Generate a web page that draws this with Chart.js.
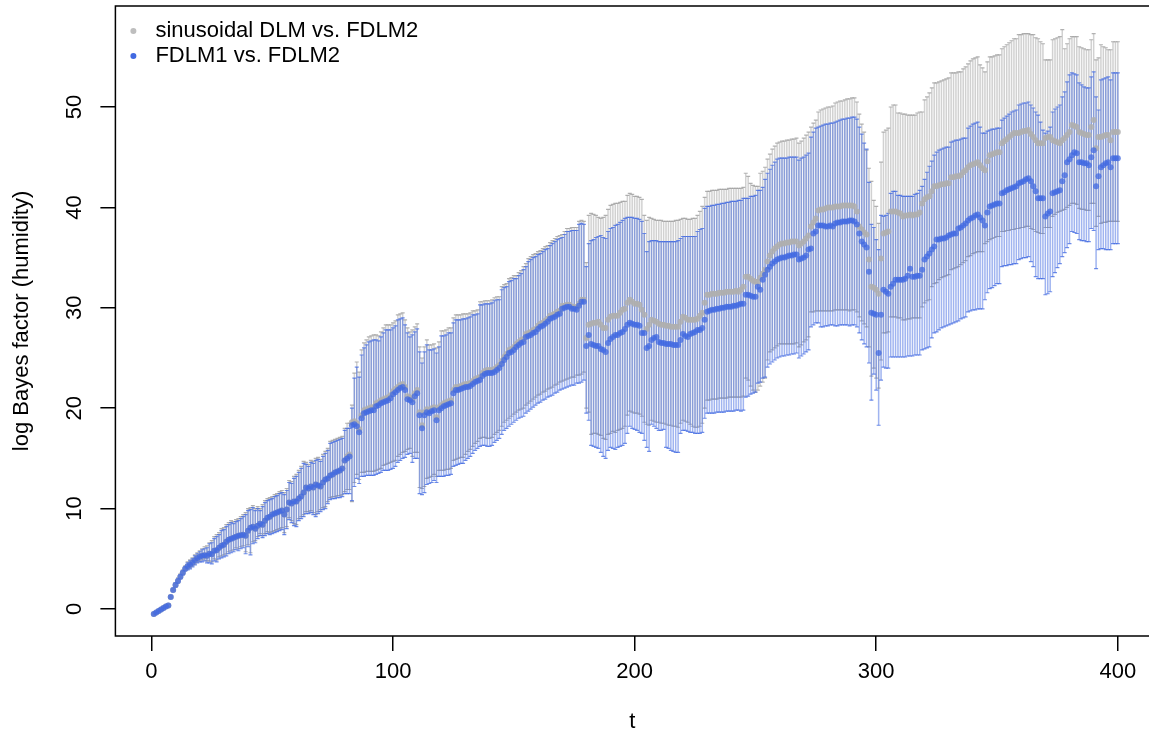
<!DOCTYPE html>
<html>
<head>
<meta charset="utf-8">
<script src="https://cdn.jsdelivr.net/npm/chart.js@4.4.1/dist/chart.umd.min.js"></script>
<style>
  html, body { margin: 0; padding: 0; background: #fff; }
</style>
</head>
<body>
<canvas id="bf" width="1149" height="733"></canvas>
<script>
// t = 1..400
const tValues = Array.from({ length: 400 }, (_, i) => i + 1);
const xTicks = [0, 100, 200, 300, 400];
const yTicks = [0, 10, 20, 30, 40, 50];

// FDLM1 vs. FDLM2 (blue): posterior mean and interval ends
const blueMean = [
  -0.5,-0.35,-0.2,-0.05,0.1,0.25,0.35,1.2,1.9,2.4,
  2.8,3.2,3.6,4.0,4.25,4.4,4.6,4.85,5.05,5.2,
  5.3,5.35,5.3,5.5,5.45,5.8,5.85,6.1,6.3,6.4,
  6.7,6.9,7.0,7.1,7.2,7.3,7.35,7.4,7.3,7.8,
  8.1,8.2,8.0,8.3,8.5,8.4,8.8,9.1,9.2,9.4,
  9.5,9.6,9.7,9.8,9.4,9.9,10.6,10.5,10.7,10.7,
  11.0,11.2,11.6,12.1,12.0,12.2,12.1,12.4,12.3,12.2,
  12.6,12.9,13.0,13.3,13.4,13.6,13.7,13.8,14.0,14.8,
  15.0,15.2,18.3,18.4,18.2,17.6,19.0,19.5,19.6,19.7,
  19.8,19.8,20.2,20.3,20.5,20.6,20.7,20.8,21.0,21.4,
  21.6,21.8,22.0,22.1,21.8,20.9,20.8,20.6,21.2,21.5,
  19.3,18.0,19.3,19.6,19.5,19.7,19.8,18.8,19.8,20.0,
  20.2,20.3,20.4,20.5,21.5,21.8,21.8,21.9,22.0,22.1,
  22.1,22.2,22.4,22.6,22.7,22.8,23.2,23.4,23.5,23.5,
  23.5,23.6,23.8,24.0,24.4,24.8,25.1,25.5,25.6,25.8,
  26.1,26.3,26.5,26.6,27.1,27.2,27.3,27.5,27.6,27.9,
  28.1,28.2,28.4,28.6,28.9,29.0,29.1,29.3,29.4,29.9,
  30.0,30.1,30.1,29.9,29.9,29.8,30.2,30.6,30.6,26.2,
  27.3,26.4,26.3,26.2,26.2,25.9,25.8,25.6,26.5,26.9,
  27.1,27.3,27.3,27.5,27.6,27.9,28.3,28.5,28.4,28.3,
  28.3,28.2,27.5,27.5,26.0,26.2,26.8,27.0,27.1,26.6,
  26.5,26.5,26.4,26.4,26.4,26.3,26.3,26.3,26.8,27.4,
  27.2,27.1,27.4,27.5,27.6,27.8,27.8,28.0,28.8,29.6,
  29.7,29.8,29.8,29.9,29.9,30.0,30.0,30.1,30.1,30.1,
  30.2,30.2,30.3,30.4,30.4,31.3,31.3,31.2,31.1,31.1,
  32.1,31.8,32.8,33.3,33.8,34.1,34.4,34.6,34.8,34.9,
  35.0,35.0,35.1,35.2,35.2,35.3,35.3,34.8,34.9,35.0,
  35.2,35.8,35.9,37.4,37.6,38.2,38.2,38.2,38.1,38.1,
  38.2,38.1,38.4,38.5,38.5,38.6,38.6,38.6,38.7,38.7,
  38.6,38.3,37.4,36.6,36.3,36.0,33.6,29.5,29.4,29.3,
  25.5,29.3,31.8,31.6,31.4,32.1,32.4,32.8,32.8,32.8,
  32.8,32.9,33.2,33.9,33.1,33.1,33.2,33.2,33.8,34.8,
  35.1,35.4,35.8,36.1,36.8,36.8,36.9,36.9,37.0,37.2,
  37.3,37.4,37.4,37.9,38.0,38.2,38.4,38.7,38.9,39.0,
  39.2,39.3,39.0,38.7,38.2,39.5,40.1,40.2,40.3,40.4,
  40.4,41.4,41.5,41.7,41.8,41.9,42.0,42.1,42.4,42.5,
  42.6,42.8,42.9,42.6,42.1,41.6,40.9,40.9,40.9,39.1,
  39.4,39.6,41.4,41.5,41.6,41.7,42.6,43.2,44.5,44.8,
  45.2,45.5,45.4,44.5,44.5,44.4,44.4,44.2,45.0,45.7,
  42.1,43.1,44.0,44.2,44.4,44.5,44.0,44.9,44.9,44.9
];
const blueHi = [
  -0.4,-0.25,-0.1,0.05,0.2,0.35,0.45,1.3,2.0,2.6,
  3.0,3.4,3.8,4.2,4.6,4.8,5.0,5.3,5.5,5.7,
  5.9,6.0,6.1,6.5,6.6,7.0,7.2,7.4,7.8,7.9,
  8.2,8.4,8.6,8.5,8.7,8.8,9.0,9.2,9.4,9.8,
  9.9,10.1,9.8,10.0,9.8,10.2,10.6,10.8,10.9,11.0,
  11.2,11.3,11.5,11.6,11.4,11.8,12.6,12.5,13.0,13.2,
  13.6,14.0,14.5,14.4,14.2,14.6,14.5,14.8,14.9,14.7,
  15.2,15.5,15.8,16.5,16.6,16.7,16.8,16.9,17.0,17.8,
  18.0,18.0,20.0,23.0,24.1,23.1,25.3,26.0,26.3,26.6,
  26.7,26.8,26.8,26.7,27.1,27.5,27.8,27.8,27.8,28.0,
  28.2,28.8,28.9,29.0,28.3,27.5,27.1,27.3,27.6,27.9,
  25.6,24.5,25.6,26.3,25.8,25.8,25.9,25.5,26.1,27.2,
  27.2,27.3,27.5,27.5,28.5,28.8,28.8,28.8,28.9,28.9,
  29.0,29.1,29.3,29.3,29.4,30.3,30.3,30.4,30.4,30.4,
  30.5,30.7,30.8,30.8,31.8,32.0,32.1,32.6,32.7,32.9,
  32.9,33.2,33.4,33.8,34.1,34.6,34.8,35.0,35.1,35.3,
  35.4,35.6,35.8,35.9,36.2,36.4,36.6,36.8,36.9,37.0,
  37.3,37.6,37.6,37.7,37.7,37.7,38.3,38.4,38.3,34.1,
  36.4,36.7,36.8,37.0,37.1,37.2,37.0,36.9,37.6,37.9,
  38.0,38.2,38.3,38.5,38.7,38.9,39.0,39.0,39.0,38.9,
  38.9,38.8,38.6,37.4,35.6,36.6,36.7,36.7,36.7,36.6,
  36.6,36.6,36.6,36.6,36.6,36.6,36.6,36.7,36.9,37.1,
  37.1,37.1,37.1,37.1,37.1,37.6,37.8,37.9,39.9,40.1,
  40.1,40.2,40.2,40.3,40.3,40.4,40.4,40.5,40.5,40.6,
  40.6,40.6,40.7,40.7,40.9,40.9,40.9,41.1,41.1,41.2,
  41.7,41.7,42.0,42.8,43.4,43.8,44.2,44.5,44.8,44.9,
  44.9,44.9,44.9,45.0,45.0,45.0,45.0,44.7,44.9,45.0,
  45.2,45.4,47.0,47.5,47.9,48.0,48.1,48.2,48.3,48.3,
  48.4,48.4,48.5,48.6,48.7,48.8,48.8,48.9,48.9,49.0,
  49.0,48.8,48.0,47.3,46.4,45.8,42.5,38.3,38.0,36.8,
  35.8,39.2,39.1,39.2,39.4,41.4,41.6,41.6,41.2,41.2,
  41.1,41.1,41.1,41.1,41.1,41.3,41.4,41.7,42.1,42.8,
  43.5,44.1,44.6,45.2,45.5,45.7,45.8,45.9,46.0,46.0,
  46.5,46.6,46.7,46.7,46.8,46.9,46.9,47.9,48.1,48.3,
  48.4,48.5,48.0,47.4,47.4,47.6,47.7,47.8,47.8,47.9,
  47.9,48.7,48.9,49.1,49.3,49.5,49.6,49.7,50.2,50.3,
  50.4,50.4,50.5,50.2,49.9,49.5,49.2,48.5,47.7,47.4,
  47.6,48.0,49.5,49.8,50.0,50.2,51.0,51.5,52.5,53.2,
  53.4,53.3,53.2,52.4,52.2,52.0,51.9,51.9,53.0,53.5,
  51.0,49.7,52.7,52.8,52.9,53.0,52.7,53.4,53.4,53.4
];
const blueLo = [
  -0.6,-0.45,-0.3,-0.15,0.0,0.15,0.25,1.1,1.8,2.2,
  2.6,3.0,3.4,3.8,3.9,4.0,4.2,4.4,4.6,4.7,
  4.7,4.8,4.6,4.6,4.5,4.8,4.7,5.0,5.1,5.2,
  5.3,5.5,5.6,5.7,5.9,5.8,6.0,6.1,5.5,6.2,
  5.4,6.5,6.6,7.0,7.3,7.1,7.3,7.5,7.4,7.5,
  7.6,7.7,7.8,7.9,7.4,8.0,8.9,8.6,8.3,8.2,
  8.8,9.0,9.2,9.5,9.5,9.6,9.4,9.2,9.5,9.7,
  9.9,10.0,10.5,10.9,11.0,11.0,11.1,11.1,11.2,11.5,
  11.5,11.5,10.8,12.2,13.0,12.5,13.2,13.2,13.3,13.3,
  13.3,13.3,13.4,13.5,13.6,13.8,13.8,13.8,13.9,14.0,
  14.2,14.6,14.8,15.0,15.1,15.4,15.5,14.6,15.0,15.0,
  11.5,11.4,11.6,12.4,12.5,12.6,12.8,12.6,13.2,13.2,
  13.2,13.3,13.3,13.4,14.2,14.3,14.4,14.5,14.5,14.8,
  15.0,15.2,15.5,15.8,16.0,16.2,16.3,16.3,16.2,16.2,
  16.3,16.6,16.8,17.0,17.4,17.8,18.0,18.2,18.4,18.6,
  18.8,19.0,19.1,19.2,19.5,19.7,19.9,20.1,20.3,20.5,
  20.6,20.8,20.9,21.1,21.2,21.3,21.5,21.6,21.8,21.9,
  22.0,22.1,22.2,22.3,22.3,22.5,22.5,22.6,22.8,19.5,
  18.8,16.3,16.2,16.1,16.0,15.6,15.2,15.0,15.8,16.1,
  16.0,15.9,16.1,16.2,16.3,16.5,17.5,18.2,18.0,17.9,
  17.8,17.6,17.5,16.8,16.1,15.7,18.4,18.2,18.0,17.8,
  17.8,17.9,16.1,16.0,15.8,15.7,15.6,15.6,17.5,17.8,
  17.8,17.7,17.6,17.6,17.5,17.5,17.5,17.6,19.0,19.5,
  19.5,19.5,19.5,19.6,19.6,19.6,19.6,19.7,19.7,19.7,
  19.7,19.8,19.8,19.7,19.8,21.1,21.2,21.4,21.5,21.6,
  22.5,22.6,23.0,23.1,24.1,24.4,24.6,24.8,25.0,25.1,
  25.2,25.2,25.3,25.3,25.4,25.4,25.5,25.0,25.2,25.4,
  25.6,25.8,28.1,28.3,28.5,28.5,28.1,28.1,28.2,28.2,
  28.3,28.3,28.2,28.2,28.3,28.3,28.3,28.3,28.2,28.3,
  28.3,28.1,27.5,26.8,26.4,26.1,24.5,20.8,23.4,21.8,
  18.3,22.8,24.1,24.0,24.0,25.1,25.1,25.1,25.1,25.1,
  25.1,25.1,25.2,25.2,25.2,25.3,25.3,25.3,25.8,25.9,
  26.0,26.1,27.0,27.5,27.6,27.8,28.0,28.1,28.2,28.3,
  28.4,28.5,28.6,28.7,28.9,29.0,29.1,29.6,29.7,29.8,
  29.8,29.9,29.9,29.9,30.8,31.5,31.9,32.0,32.2,32.4,
  32.4,34.1,34.2,34.2,34.3,34.3,34.4,34.4,34.8,34.9,
  35.0,35.0,35.1,34.6,34.1,33.1,32.9,32.9,32.9,31.3,
  31.4,31.6,33.1,33.5,34.0,34.4,35.1,35.5,36.0,36.4,
  37.6,37.5,37.4,36.8,36.7,36.7,36.6,36.6,37.9,37.7,
  33.9,35.8,35.9,35.9,35.8,35.8,35.8,36.4,36.4,36.4
];

// sinusoidal DLM vs. FDLM2 (grey)
const greyMean = [
  -0.5,-0.35,-0.2,-0.05,0.1,0.25,0.35,1.2,1.9,2.4,
  2.8,3.2,3.6,4.0,4.25,4.4,4.6,4.85,5.05,5.2,
  5.3,5.35,5.3,5.5,5.45,5.8,5.85,6.1,6.3,6.4,
  6.7,6.9,7.0,7.1,7.2,7.3,7.35,7.4,7.3,7.8,
  8.1,8.2,8.0,8.3,8.5,8.4,8.8,9.1,9.2,9.4,
  9.5,9.6,9.7,9.8,9.4,9.9,10.6,10.5,10.7,10.7,
  11.0,11.2,11.6,12.1,12.0,12.2,12.1,12.4,12.3,12.2,
  12.6,12.9,13.0,13.3,13.4,13.6,13.7,13.8,14.0,14.8,
  15.2,15.4,18.6,18.7,18.5,17.9,19.3,19.8,19.9,20.0,
  20.1,20.1,20.5,20.6,20.8,20.9,21.0,21.1,21.3,21.7,
  21.9,22.1,22.3,22.4,22.1,21.2,21.1,20.9,21.5,21.8,
  19.6,18.3,19.6,19.9,19.8,20.0,20.1,19.1,20.1,20.3,
  20.5,20.6,20.7,20.8,21.8,22.1,22.1,22.2,22.3,22.4,
  22.4,22.5,22.7,22.9,23.0,23.1,23.5,23.7,23.8,23.8,
  23.8,23.9,24.1,24.3,24.7,25.1,25.4,25.8,25.9,26.1,
  26.4,26.6,26.8,26.9,27.4,27.5,27.6,27.8,27.9,28.2,
  28.4,28.5,28.7,28.9,29.2,29.3,29.4,29.6,29.7,30.2,
  30.2,30.3,30.3,30.1,30.1,30.0,30.4,30.8,30.8,27.0,
  28.3,28.4,28.5,28.5,28.6,28.3,28.0,28.0,28.8,29.1,
  29.2,29.2,29.2,29.5,29.8,29.9,30.5,30.8,30.6,30.4,
  30.4,30.3,29.8,29.3,27.9,28.3,28.8,28.7,28.6,28.4,
  28.3,28.3,28.2,28.2,28.1,28.1,28.1,28.1,28.6,29.1,
  29.0,28.8,28.8,28.8,28.8,28.9,29.2,29.5,30.5,31.3,
  31.3,31.4,31.4,31.4,31.5,31.5,31.5,31.6,31.6,31.6,
  31.6,31.7,31.6,31.8,32.1,33.1,33.1,32.9,32.7,32.6,
  32.6,33.0,33.4,33.8,34.6,35.2,35.6,35.9,36.1,36.3,
  36.4,36.4,36.5,36.5,36.6,36.6,36.6,36.2,36.4,36.6,
  36.9,37.2,38.1,38.5,38.9,39.7,39.8,39.8,39.9,40.0,
  40.0,40.0,40.1,40.1,40.1,40.2,40.2,40.2,40.2,40.2,
  40.1,39.6,38.1,37.8,37.5,37.3,34.8,32.1,32.0,31.8,
  31.4,34.9,37.4,37.5,37.6,39.6,39.6,39.6,39.5,39.4,
  39.1,39.2,39.2,39.3,39.2,39.3,39.3,39.5,40.4,40.8,
  41.0,41.1,41.6,42.1,42.1,42.2,42.3,42.3,42.4,42.4,
  43.0,43.0,43.1,43.1,43.2,43.5,43.7,44.0,44.2,44.3,
  44.4,44.5,44.2,43.9,43.7,44.6,45.2,45.3,45.4,45.5,
  45.5,46.4,46.6,46.8,47.0,47.2,47.4,47.4,47.4,47.5,
  47.6,47.6,47.7,47.3,47.0,46.7,46.4,46.4,46.4,46.9,
  47.0,47.0,46.7,46.6,46.5,46.4,46.7,46.9,47.2,47.5,
  48.2,48.1,48.0,47.5,47.4,47.3,47.2,47.2,48.0,48.7,
  45.9,47.0,47.0,47.1,47.2,47.2,46.7,47.5,47.5,47.5
];
const greyHi = [
  -0.4,-0.25,-0.1,0.05,0.2,0.35,0.45,1.3,2.0,2.6,
  3.1,3.5,3.9,4.3,4.7,4.9,5.1,5.4,5.6,5.8,
  6.0,6.2,6.3,6.6,6.8,7.2,7.4,7.6,8.0,8.1,
  8.4,8.6,8.8,8.7,8.9,9.0,9.2,9.4,9.6,10.0,
  10.1,10.3,10.0,10.2,10.0,10.4,10.8,11.0,11.1,11.2,
  11.4,11.5,11.7,11.8,11.6,12.0,12.8,12.7,13.2,13.4,
  13.8,14.2,14.7,14.6,14.4,14.8,14.7,15.0,15.1,14.9,
  15.4,15.7,16.0,16.7,16.8,16.9,17.0,17.1,17.2,18.0,
  18.5,18.5,20.3,23.5,24.6,23.6,25.8,26.5,26.8,27.1,
  27.2,27.3,27.3,27.2,27.6,28.0,28.3,28.3,28.3,28.5,
  28.7,29.3,29.4,29.5,28.8,28.0,27.6,27.8,28.1,28.4,
  26.1,25.0,26.1,26.8,26.3,26.3,26.4,26.0,26.6,27.7,
  27.7,27.8,28.0,28.0,29.0,29.3,29.3,29.3,29.4,29.4,
  29.4,29.5,29.7,29.7,29.8,30.6,30.6,30.7,30.7,30.7,
  30.8,31.0,31.1,31.1,32.1,32.3,32.4,32.9,33.0,33.2,
  33.2,33.5,33.7,34.1,34.4,34.9,35.1,35.3,35.4,35.6,
  35.7,35.9,36.1,36.2,36.5,36.7,36.9,37.1,37.2,37.3,
  37.6,37.9,37.9,38.0,38.0,38.0,38.6,38.7,38.6,34.5,
  39.2,39.4,39.3,39.2,39.0,38.9,39.0,39.2,39.8,40.2,
  40.3,40.4,40.4,40.5,40.6,40.6,41.2,41.4,41.3,41.1,
  41.1,41.0,40.8,39.2,38.7,39.0,38.9,38.8,38.7,38.7,
  38.7,38.6,38.6,38.6,38.6,38.6,38.7,38.7,38.8,38.9,
  38.9,38.8,38.8,38.9,38.9,39.2,39.6,40.1,41.0,41.6,
  41.6,41.7,41.7,41.7,41.8,41.8,41.8,41.8,41.9,41.9,
  41.9,41.9,41.9,41.9,42.0,43.4,43.1,42.4,42.2,42.1,
  42.1,43.4,43.6,44.0,44.8,45.3,45.8,46.1,46.4,46.5,
  46.6,46.6,46.7,46.7,46.8,46.8,46.9,46.4,46.6,46.9,
  47.2,47.5,48.0,48.4,48.7,49.5,49.7,49.8,49.9,50.0,
  50.0,50.1,50.4,50.5,50.6,50.6,50.7,50.8,50.8,50.9,
  50.9,50.5,49.3,48.3,47.5,45.7,43.9,42.6,40.7,40.1,
  38.4,44.5,47.5,47.7,47.9,50.0,50.2,50.2,49.4,49.4,
  49.3,49.3,49.2,49.2,49.2,49.2,49.4,49.5,49.5,50.7,
  51.0,51.4,51.9,52.4,52.4,52.5,52.6,52.7,52.8,52.9,
  53.4,53.4,53.4,53.5,53.5,53.8,54.0,54.3,54.6,54.8,
  54.9,55.0,54.2,53.9,53.5,54.5,55.0,55.0,55.1,55.2,
  55.2,55.8,56.0,56.2,56.4,56.6,56.8,56.8,57.2,57.2,
  57.3,57.3,57.3,57.2,57.2,56.9,56.8,56.5,56.3,54.7,
  54.7,54.7,56.7,56.8,56.9,57.0,57.7,55.8,56.3,56.8,
  57.0,57.0,57.0,56.0,55.9,55.8,55.7,55.7,56.7,57.3,
  54.7,54.9,56.2,56.0,55.9,55.7,55.7,56.5,56.5,56.5
];
const greyLo = [
  -0.6,-0.45,-0.3,-0.15,0.0,0.15,0.25,1.1,1.8,2.2,
  2.7,3.1,3.5,3.9,4.0,4.1,4.3,4.5,4.7,4.8,
  4.9,5.0,4.8,4.8,4.7,5.0,4.9,5.2,5.3,5.4,
  5.5,5.7,5.8,5.9,6.1,6.0,6.2,6.3,5.7,6.4,
  5.6,6.7,6.8,7.2,7.5,7.3,7.5,7.7,7.6,7.7,
  7.8,7.9,8.0,8.1,7.6,8.2,9.1,8.8,8.5,8.4,
  9.0,9.2,9.4,9.7,9.7,9.8,9.6,9.4,9.7,9.9,
  10.1,10.2,10.7,11.1,11.2,11.2,11.3,11.3,11.4,11.7,
  11.9,11.9,10.7,12.6,13.4,12.9,13.6,13.6,13.7,13.7,
  13.7,13.7,13.8,13.9,14.0,14.3,14.4,14.5,14.6,14.7,
  14.8,15.2,15.4,15.6,15.7,15.9,16.0,15.2,15.6,15.6,
  12.1,12.0,12.2,13.0,13.1,13.2,13.4,13.2,13.8,13.8,
  13.8,13.9,13.9,14.0,14.8,14.9,15.0,15.1,15.1,15.4,
  15.7,15.9,16.2,16.5,16.7,17.0,17.1,17.1,17.0,17.0,
  17.1,17.4,17.6,17.8,18.2,18.6,18.8,19.0,19.2,19.4,
  19.6,19.8,19.9,20.0,20.3,20.5,20.7,20.9,21.1,21.3,
  21.4,21.6,21.7,21.9,22.0,22.1,22.3,22.4,22.6,22.7,
  22.8,22.9,23.0,23.1,23.1,23.3,23.3,23.4,23.6,20.0,
  19.6,17.4,17.5,17.5,17.4,17.3,17.0,16.9,17.4,17.5,
  17.7,17.6,17.8,17.9,18.0,18.2,19.3,19.7,19.6,19.5,
  19.5,19.4,19.2,18.6,18.4,18.3,18.8,18.7,18.6,18.6,
  18.5,18.5,18.4,18.3,18.3,18.2,18.2,18.1,18.5,18.8,
  18.7,18.6,18.4,18.2,18.1,18.1,18.2,18.5,20.0,20.8,
  20.8,20.9,20.9,20.9,21.0,21.0,21.0,21.0,21.1,21.1,
  21.1,21.1,21.1,21.1,21.2,23.0,22.8,22.2,21.8,21.6,
  21.8,22.2,22.6,23.0,24.8,25.6,25.8,26.0,26.2,26.4,
  26.4,26.4,26.4,26.4,26.4,26.4,26.5,26.1,26.3,26.6,
  26.8,27.1,29.6,29.6,29.7,29.7,29.7,29.7,29.7,29.7,
  29.7,29.7,29.8,29.8,29.8,29.8,29.8,29.8,29.7,29.8,
  29.8,29.6,29.1,28.7,28.4,28.1,26.1,23.2,24.0,23.0,
  22.0,24.8,27.5,27.5,27.6,29.1,29.1,29.1,29.0,29.0,
  28.8,28.8,28.9,28.9,29.0,29.0,29.0,29.0,30.1,30.5,
  30.7,30.8,32.1,32.4,32.5,32.8,33.0,33.1,33.2,33.3,
  33.8,33.9,34.0,34.1,34.3,34.5,34.7,35.1,35.2,35.4,
  35.5,35.6,35.6,35.6,36.4,36.6,36.8,36.9,37.0,37.1,
  37.1,37.6,37.6,37.7,37.7,37.8,37.8,37.9,37.9,38.0,
  38.0,38.1,38.1,37.9,37.8,37.6,37.5,37.4,37.4,38.0,
  38.0,38.0,39.1,39.3,39.5,39.6,39.7,39.8,40.0,40.2,
  40.4,40.4,40.3,39.9,39.8,39.8,39.7,39.7,40.4,40.4,
  38.1,39.1,38.4,38.5,38.5,38.6,38.6,38.6,38.6,38.6
];

const legendItems = [
  { label: 'sinusoidal DLM vs. FDLM2', color: '#bebebe' },
  { label: 'FDLM1 vs. FDLM2', color: '#4169e1' }
];

const FONT = '"Liberation Sans", Arial, Helvetica, sans-serif';
Chart.defaults.font.family = FONT;
Chart.defaults.font.size = 22;
Chart.defaults.color = '#000';

const pts = (ys) => tValues.map((x, i) => ({ x, y: ys[i] }));
const bars = (lo, hi) => tValues.map((x, i) => ({ x, y: [lo[i], hi[i]] }));

// R-style box (left, top, bottom; right side falls outside the picture)
const boxPlugin = {
  id: 'rBox',
  afterDatasetsDraw(chart) {
    const { ctx, chartArea: a } = chart;
    ctx.save();
    ctx.strokeStyle = '#000';
    ctx.lineWidth = 1.5;
    ctx.beginPath();
    ctx.moveTo(chart.width, a.top);
    ctx.lineTo(a.left, a.top);
    ctx.lineTo(a.left, a.bottom);
    ctx.lineTo(chart.width, a.bottom);
    ctx.stroke();
    ctx.restore();
  }
};

const legendPlugin = {
  id: 'rLegend',
  afterDraw(chart) {
    const { ctx, chartArea: a } = chart;
    ctx.save();
    ctx.font = '22px ' + FONT;
    ctx.textBaseline = 'middle';
    legendItems.forEach((item, i) => {
      const y = a.top + 25 + i * 25;
      ctx.fillStyle = item.color;
      ctx.beginPath();
      ctx.arc(a.left + 18, y, 3, 0, Math.PI * 2);
      ctx.fill();
      ctx.fillStyle = '#000';
      ctx.fillText(item.label, a.left + 40, y);
    });
    ctx.restore();
  }
};

new Chart(document.getElementById('bf'), {
  type: 'scatter',
  data: {
    datasets: [
      {
        type: 'bar', data: bars(greyLo, greyHi), order: 10,
        backgroundColor: 'rgba(190,190,190,0.7)', borderWidth: 0,
        grouped: false, maxBarThickness: 1.5
      },
      {
        data: pts(greyLo).concat(pts(greyHi)), order: 9,
        pointStyle: 'line', pointRadius: 2, pointBorderWidth: 1.2,
        pointBorderColor: 'rgba(165,165,165,0.85)'
      },
      {
        type: 'bar', data: bars(blueLo, blueHi), order: 8,
        backgroundColor: 'rgba(65,105,225,0.5)', borderWidth: 0,
        grouped: false, maxBarThickness: 1.5
      },
      {
        data: pts(blueLo).concat(pts(blueHi)), order: 7,
        pointStyle: 'line', pointRadius: 2, pointBorderWidth: 1.2,
        pointBorderColor: 'rgba(65,105,225,0.75)'
      },
      {
        data: pts(greyMean), order: 6,
        pointRadius: 3, pointBorderWidth: 0,
        pointBackgroundColor: 'rgba(175,175,175,0.85)'
      },
      {
        data: pts(blueMean), order: 5,
        pointRadius: 3, pointBorderWidth: 0,
        pointBackgroundColor: 'rgba(65,105,225,0.75)'
      }
    ]
  },
  options: {
    responsive: false,
    animation: false,
    devicePixelRatio: 1,
    layout: { autoPadding: false, padding: { top: 6, right: 0, bottom: 0, left: 0 } },
    plugins: { legend: { display: false }, tooltip: { enabled: false } },
    scales: {
      x: {
        type: 'linear', min: -14.9, max: 412.9, offset: false,
        afterFit: (s) => { s.height = 97; s.paddingLeft = 0; s.paddingRight = 0; },
        afterBuildTicks: (s) => { s.ticks = xTicks.map(v => ({ value: v })); },
        grid: { offset: false, drawOnChartArea: false, drawTicks: true, tickLength: 15, color: '#000', lineWidth: 1.5 },
        border: { display: false },
        ticks: { autoSkip: false, maxRotation: 0, padding: 8, font: { size: 22, lineHeight: 1.2 } },
        title: { display: true, text: 't', font: { size: 22, lineHeight: 1 }, padding: { top: 0, bottom: 0 } }
      },
      y: {
        type: 'linear', min: -2.69, max: 60.06, beginAtZero: false, stacked: false,
        afterFit: (s) => { s.width = 115.4; s.paddingTop = 0; s.paddingBottom = 0; },
        afterBuildTicks: (s) => { s.ticks = yTicks.map(v => ({ value: v })); },
        grid: { drawOnChartArea: false, drawTicks: true, tickLength: 15, color: '#000', lineWidth: 1.5 },
        border: { display: false },
        ticks: { autoSkip: false, minRotation: 90, maxRotation: 90, crossAlign: 'center', padding: 13, font: { size: 22, lineHeight: 1.2 } },
        title: { display: true, text: 'log Bayes factor (humidity)', font: { size: 22, lineHeight: 1.2 }, padding: { top: 9, bottom: 0 } }
      }
    }
  },
  plugins: [boxPlugin, legendPlugin]
});
</script>
</body>
</html>
